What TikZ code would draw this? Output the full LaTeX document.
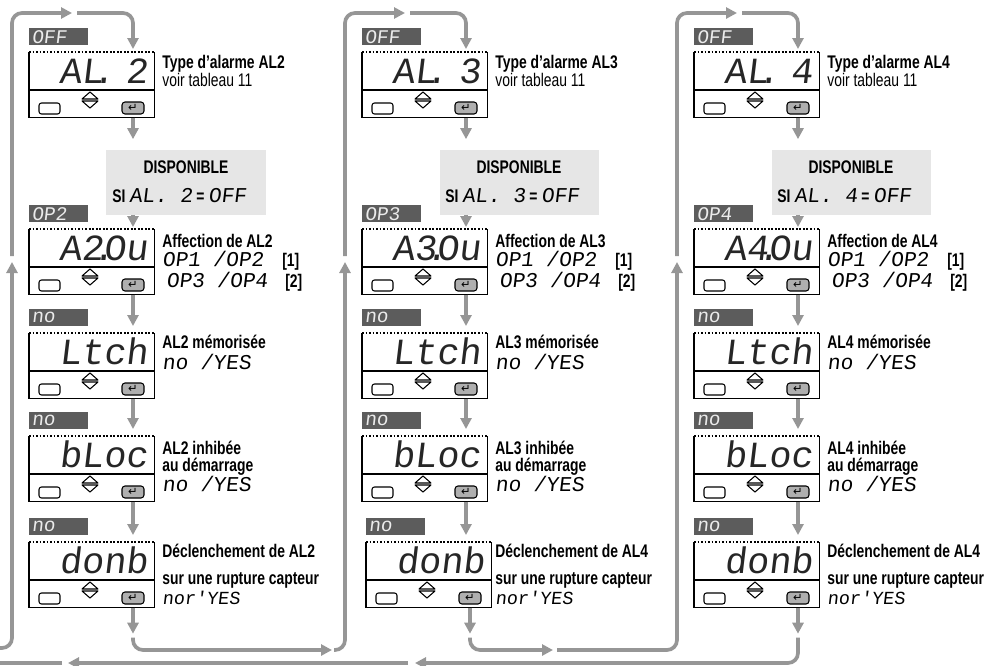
\documentclass[tikz,border=0pt]{standalone}
\usepackage{fontspec}
\setmainfont{Liberation Sans}[FakeStretch=0.76]
\newfontfamily\segfont{Liberation Mono}[FakeSlant=0.12]
\newfontfamily\symfont{DejaVu Sans}
\usepackage{xcolor}
\usepackage{tikz}
\usetikzlibrary{arrows.meta,positioning}

\definecolor{flowgray}{RGB}{150,150,150}
\definecolor{chipgray}{RGB}{92,92,92}
\definecolor{boxgray}{RGB}{230,230,230}
\definecolor{keygray}{RGB}{175,175,175}

\newcommand{\segdot}{\makebox[0pt][c]{.}}
\newcommand{\segsm}{\segfont\mdseries\fontsize{12}{12}\selectfont}

\tikzset{
  flow/.style={draw=flowgray, line width=2.1pt, rounded corners=2mm},
  flowarrow/.style={flow, -{Triangle[length=2.2mm,width=2.2mm]}},
  lcdline/.style={line width=0.6pt},
  lcdframe/.style={minimum width=25mm, minimum height=13mm, inner sep=0},
  lcdtext/.style={inner sep=0, font=\segfont\fontsize{21}{21}\selectfont, text=black!85},
  chip/.style={fill=chipgray, minimum height=3.4mm, inner xsep=0.5mm, inner ysep=0,
    text width=10.8mm, align=left, font=\segfont\fontsize{11}{11}\selectfont, text=white!92!black},
  enterkey/.style={draw, fill=keygray, line width=0.6pt, rounded corners=0.6mm,
    minimum width=4.4mm, minimum height=2.4mm, inner sep=0, font=\symfont\fontsize{6.5}{6.5}\selectfont},
  dispo/.style={fill=boxgray, minimum width=31.8mm, minimum height=13mm, inner sep=0},
  head/.style={anchor=base west, inner sep=0, font=\fontsize{10.4}{12}\selectfont\bfseries},
  note/.style={anchor=base west, inner sep=0, font=\fontsize{10.4}{12}\selectfont},
  seg/.style={anchor=base west, inner sep=0, font=\segsm},
}

% name, left x, top y, display text, chip text
\newcommand{\lcdpanel}[5]{%
  \node[lcdframe, anchor=north west] (#1) at (#2,#3) {};
  \draw[lcdline] (#1.north west) -- (#1.south west) -- (#1.south east) -- (#1.north east);
  \draw[lcdline, dash pattern=on 1pt off 1pt] (#1.north west) -- (#1.north east);
  \draw[lcdline] (#2,#3+38) -- (#2+125,#3+38);
  \node[lcdtext, anchor=base east] (#1-txt) at (#2+119,#3+31) {#4};
  \node[chip, anchor=north west] (#1-chip) at (#2,#3-24) {#5};
  \draw[lcdline, rounded corners=0.5mm] (#2+10,#3+51) rectangle (#2+31,#3+62);
  \draw[lcdline, line join=round] (#2+53,#3+47) -- (#2+61,#3+40) -- (#2+69,#3+47) -- cycle
                 (#2+53,#3+49) -- (#2+61,#3+56) -- (#2+69,#3+49) -- cycle;
  \node[enterkey] (#1-key) at (#2+104,#3+56) {↵};
}

\begin{document}
\begin{tikzpicture}[x=0.2mm, y=-0.2mm]
  \useasboundingbox (0,0) rectangle (988,666);

  \foreach \o/\n/\d/\s in {0/2/2/0, 333/3/4/4, 665/4/4/0} {
    \lcdpanel{al\n-type}{\o+29}{52}{AL\segdot~\n}{OFF}
    \lcdpanel{al\n-out}{\o+29}{229}{A\n\segdot Ou}{OP\n}
    \lcdpanel{al\n-ltch}{\o+29}{333}{Ltch}{no}
    \lcdpanel{al\n-bloc}{\o+29}{436}{bLoc}{no}
    \lcdpanel{al\n-donb}{\o+29+\s}{542}{donb}{no}

    \node[dispo] (al\n-dispo) at (\o+186,182) {};
    \node[head, anchor=base] (al\n-dispo-l1) at (\o+186,173) {DISPONIBLE};
    \node[head] (al\n-dispo-l2) at (\o+112,202) {SI {\segsm AL.~\n} = {\segsm OFF}};

    \node[head] (al\n-type-h) at (\o+162,68) {Type d'alarme AL\n};
    \node[note] (al\n-type-n) at (\o+162,86) {voir tableau 11};
    \node[head] (al\n-out-h) at (\o+162,247) {Affection de AL\n};
    \node[seg] (al\n-out-a) at (\o+162,266) {OP1 /OP2};
    \node[head] (al\n-out-a1) at (\o+282,266) {[1]};
    \node[seg] (al\n-out-b) at (\o+166,287) {OP3 /OP4};
    \node[head] (al\n-out-b1) at (\o+285,287) {[2]};
    \node[head] (al\n-ltch-h) at (\o+162,348) {AL\n\ mémorisée};
    \node[seg] (al\n-ltch-s) at (\o+162,369) {no /YES};
    \node[head] (al\n-bloc-h) at (\o+162,454) {AL\n\ inhibée};
    \node[head] (al\n-bloc-h2) at (\o+162,471) {au démarrage};
    \node[seg] (al\n-bloc-s) at (\o+162,491) {no /YES};
    \node[head] (al\n-donb-h) at (\o+162,557) {Déclenchement de AL\d};
    \node[head] (al\n-donb-h2) at (\o+162,584) {sur une rupture capteur};
    \node[seg, font=\segfont\fontsize{10.5}{10.5}\selectfont] (al\n-donb-s) at (\o+162,604) {nor'YES};

    \draw[flowarrow] (\o+12,256) |- (\o+72,13);
    \draw[flowarrow, shorten >=0.6mm] (\o+77,13) -| (al\n-type-key |- al\n-type.north);
    \draw[flowarrow, shorten >=2mm] (al\n-type-key |- al\n-type.south) -- (al\n-type-key |- al\n-dispo.north);
    \draw[flowarrow, shorten >=0.4mm] (al\n-type-key |- al\n-dispo.south) -- (al\n-type-key |- al\n-out.north);
    \draw[flowarrow, shorten >=1.4mm] (al\n-out-key |- al\n-out.south) -- (al\n-out-key |- al\n-ltch.north);
    \draw[flowarrow, shorten >=1.4mm] (al\n-ltch-key |- al\n-ltch.south) -- (al\n-ltch-key |- al\n-bloc.north);
    \draw[flowarrow, shorten >=1.4mm] (al\n-bloc-key |- al\n-bloc.south) -- (al\n-bloc-key |- al\n-donb.north);
    \coordinate (al\n-exit) at (al\n-donb-key |- al\n-donb.south);
    \draw[flowarrow] (al\n-exit) -- ++(0,26);
  }

  \draw[flowarrow] (0,648) -| (12,262);
  \draw[flowarrow] ([yshift=-6mm]al2-exit) |- (332,650);
  \draw[flowarrow] (334,650) -| (345,262);
  \draw[flowarrow] ([yshift=-6mm]al3-exit) |- (553,650);
  \draw[flowarrow] (557,650) -| (677,262);
  \draw[flowarrow] ([yshift=-6mm]al4-exit) |- (415,663);
  \draw[flowarrow] (408,663) -- (68,663);
  \draw[flow] (62,663) -- (0,663);
\end{tikzpicture}
\end{document}
